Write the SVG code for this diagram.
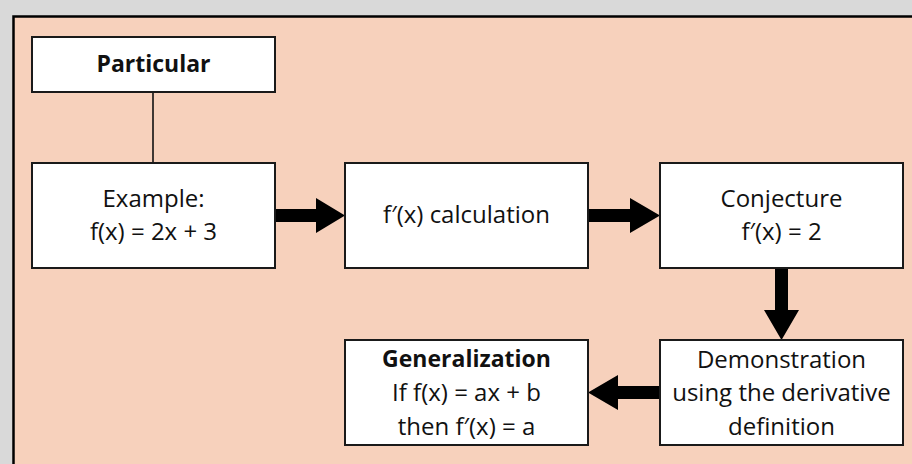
<svg xmlns="http://www.w3.org/2000/svg" width="912" height="464" viewBox="0 0 912 464">
  <style>
    .box { fill: #ffffff; stroke: #1a1a1a; stroke-width: 2; }
    .txt { font-family: "Open Sans", "Liberation Sans", sans-serif; font-size: 24px; fill: #111; text-anchor: middle; }
    .bold { font-weight: bold; font-size: 23px; }
    .arrow { fill: #000; }
    .link { stroke: #111; stroke-width: 1.6; fill: none; }
  </style>
  <!-- page background and framed panel -->
  <rect x="0" y="0" width="912" height="464" fill="#d9d9d9"/>
  <rect x="13.5" y="16.5" width="920" height="470" fill="#f7d1bc" stroke="#000" stroke-width="2.5"/>

  <g id="connectors">
    <line class="link" x1="153" y1="92" x2="153" y2="163"/>
    <!-- Example -> calculation -->
    <polygon class="arrow" points="275,209 316,209 316,198 345,215.5 316,233 316,222 275,222"/>
    <!-- calculation -> Conjecture -->
    <polygon class="arrow" points="588,209 630,209 630,198 660,215.5 630,233 630,222 588,222"/>
    <!-- Conjecture -> Demonstration -->
    <polygon class="arrow" points="775,268 788,268 788,310 799,310 781.5,340 764,310 775,310"/>
    <!-- Demonstration -> Generalization -->
    <polygon class="arrow" points="660,386 618,386 618,375 588,392.5 618,410 618,399 660,399"/>
  </g>

  <g id="particular">
    <rect class="box" x="32" y="37" width="243" height="55"/>
    <text class="txt bold" x="153.5" y="72">Particular</text>
  </g>
  <g id="example">
    <rect class="box" x="32" y="163" width="243" height="105"/>
    <text class="txt" x="153.5" y="207">Example:</text>
    <text class="txt" x="153.5" y="240">f(x) = 2x + 3</text>
  </g>
  <g id="calculation">
    <rect class="box" x="345" y="163" width="243" height="105"/>
    <text class="txt" x="466.5" y="223">f′(x) calculation</text>
  </g>
  <g id="conjecture">
    <rect class="box" x="660" y="163" width="243" height="105"/>
    <text class="txt" x="781.5" y="207">Conjecture</text>
    <text class="txt" x="781.5" y="240">f′(x) = 2</text>
  </g>
  <g id="demonstration">
    <rect class="box" x="660" y="340" width="243" height="105"/>
    <text class="txt" x="781.5" y="368">Demonstration</text>
    <text class="txt" x="781.5" y="401">using the derivative</text>
    <text class="txt" x="781.5" y="435">definition</text>
  </g>
  <g id="generalization">
    <rect class="box" x="345" y="340" width="243" height="105"/>
    <text class="txt bold" x="466.5" y="367">Generalization</text>
    <text class="txt" x="466.5" y="401">If f(x) = ax + b</text>
    <text class="txt" x="466.5" y="435">then f′(x) = a</text>
  </g>
</svg>
